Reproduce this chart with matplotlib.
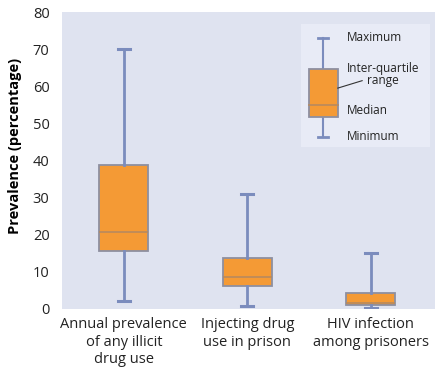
import matplotlib
matplotlib.use('Agg')
import matplotlib.pyplot as plt
from matplotlib.patches import Rectangle

# values
categories = ['Annual prevalence\nof any illicit\ndrug use',
              'Injecting drug\nuse in prison',
              'HIV infection\namong prisoners']
minimum = [2.1, 0.8, 0.2]
q1 = [15.6, 6.2, 1.1]
median = [20.7, 8.6, 1.6]
q3 = [38.8, 13.7, 4.3]
maximum = [70.0, 31.0, 15.1]

yticks = [0, 10, 20, 30, 40, 50, 60, 70, 80]

fill = '#F49A35'
edge = '#8E8FA0'
whisk = '#7B8CBD'
bg = '#DFE3F0'

plt.rcParams['font.family'] = ['Open Sans', 'DejaVu Sans']

fig = plt.figure(figsize=(4.38, 3.70), dpi=100)
ax = fig.add_axes([62/438, 1 - 309/370, (435-62)/438, (309-12)/370])
ax.set_facecolor(bg)

stats = []
for i in range(len(categories)):
    stats.append(dict(whislo=minimum[i], q1=q1[i], med=median[i],
                      q3=q3[i], whishi=maximum[i], label=categories[i]))

ax.bxp(stats, positions=[1, 2, 3], widths=0.4, showfliers=False,
       patch_artist=True, capwidths=0.1,
       boxprops=dict(facecolor=fill, edgecolor=edge, linewidth=1.3),
       medianprops=dict(color='#B78A5E', linewidth=1.2),
       whiskerprops=dict(color=whisk, linewidth=2),
       capprops=dict(color=whisk, linewidth=2.2))

ax.set_xlim(0.5, 3.52)
ax.set_ylim(0, 80)
ax.set_yticks(yticks)
ax.tick_params(length=0, labelsize=10.5, colors='#222222')
ax.tick_params(axis='x', pad=6)
ax.tick_params(axis='y', pad=9)
for s in ax.spines.values():
    s.set_visible(False)
ax.set_ylabel('Prevalence (percentage)', fontsize=10.5, fontweight='bold')
ax.yaxis.set_label_coords(-0.108, 0.55)

# key box in top right
ax.add_patch(Rectangle((2.437, 43.7), 1.04, 33.1, facecolor='#E8EBF6', edgecolor='none', zorder=1))
kx = 2.615
ax.plot([kx, kx], [46.4, 51.8], color=whisk, lw=1.5, zorder=2)
ax.plot([kx, kx], [64.7, 73.0], color=whisk, lw=1.5, zorder=2)
ax.plot([kx - 0.04, kx + 0.04], [73.0, 73.0], color=whisk, lw=2, zorder=2)
ax.plot([kx - 0.04, kx + 0.04], [46.4, 46.4], color=whisk, lw=2, zorder=2)
ax.add_patch(Rectangle((kx - 0.118, 51.8), 0.236, 12.9, facecolor=fill,
                       edgecolor=edge, lw=1.3, zorder=3))
ax.plot([kx - 0.118, kx + 0.118], [55.0, 55.0], color='#B78A5E', lw=1.2, zorder=4)
ax.plot([kx + 0.118, 2.93], [59.5, 61.5], color='#333333', lw=0.8, zorder=4)
ax.text(2.81, 73.0, 'Maximum', fontsize=8.5, va='center', ha='left', color='#222222')
ax.text(3.10, 63.2, 'Inter-quartile\nrange', fontsize=8.5, va='center', ha='center',
        linespacing=0.95, color='#222222')
ax.text(2.81, 53.5, 'Median', fontsize=8.5, va='center', ha='left', color='#222222')
ax.text(2.81, 46.4, 'Minimum', fontsize=8.5, va='center', ha='left', color='#222222')

fig.savefig('out.png', dpi=100)
